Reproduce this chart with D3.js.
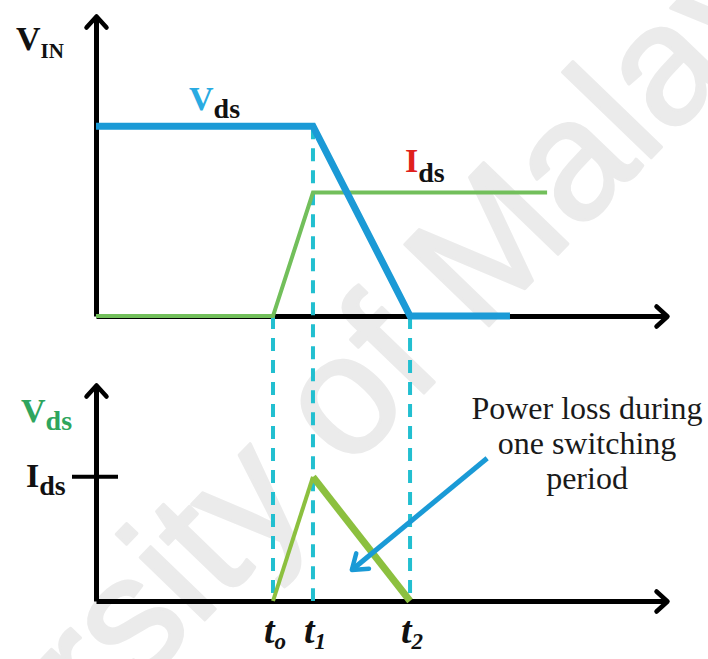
<!DOCTYPE html>
<html>
<head>
<meta charset="utf-8">
<script src="https://cdn.jsdelivr.net/npm/d3@7"></script>
<style>
  body { margin: 0; background: #fff; }
  svg { display: block; }
</style>
</head>
<body>
<div id="chart"></div>
<script>
// Time positions (arbitrary units along the shared time axis)
const switchTimes = [31, 38, 55];
const switchSubs = ["o", "1", "2"];
// level of the top plot where each dashed guide starts
const switchStart = [0, 1, 0];

// Top plot: Vds and Ids waveforms during turn-on
const vdsTime = [0, 38, 55, 72.5];
const vdsLevel = [1, 1, 0, 0];
const idsTime = [0, 31, 38, 79];
const idsLevel = [0, 0, 0.65, 0.65];

// Bottom plot: switching loss triangle
const lossTime = [31, 38, 55];
const lossLevel = [0, 1, 0];

// Annotation arrow (from text to triangle)
const arrowTime = [68.5, 44.8];
const arrowLevel = [1.15, 0.25];
const noteLines = ["Power loss during", "one switching", "period"];

const width = 708, height = 659;

const svg = d3.select("#chart").append("svg")
    .attr("width", width)
    .attr("height", height);

svg.append("rect").attr("width", width).attr("height", height).attr("fill", "#fff");

// watermark
svg.append("text")
    .attr("transform", "translate(294,459) rotate(-46)")
    .attr("text-anchor", "middle")
    .attr("dy", "0.28em")
    .style("font-family", "Liberation Sans, Arial, sans-serif")
    .style("font-size", "170px")
    .attr("fill", "#ebebeb")
    .attr("stroke", "#ebebeb")
    .attr("stroke-width", 3)
    .attr("stroke-linejoin", "round")
    .text("University of Malaya");

// Scales
const x = d3.scaleLinear().domain([0, 100]).range([96, 667]);
const yTop = d3.scaleLinear().domain([0, 1.58]).range([316, 16]);
const yBot = d3.scaleLinear().domain([0, 1.74]).range([601, 385]);

// arrow markers
const defs = svg.append("defs");
defs.append("marker")
    .attr("id", "axis-arrow")
    .attr("markerUnits", "userSpaceOnUse")
    .attr("viewBox", "-16 -14 20 28")
    .attr("refX", 0).attr("refY", 0)
    .attr("markerWidth", 20).attr("markerHeight", 28)
    .attr("orient", "auto")
    .append("path")
    .attr("d", "M-11,-10L0,0L-11,10")
    .attr("fill", "none")
    .attr("stroke", "#000")
    .attr("stroke-width", 4.5)
    .attr("stroke-linecap", "round")
    .attr("stroke-linejoin", "round");

defs.append("marker")
    .attr("id", "note-arrow")
    .attr("markerUnits", "userSpaceOnUse")
    .attr("viewBox", "-20 -14 24 28")
    .attr("refX", 0).attr("refY", 0)
    .attr("markerWidth", 24).attr("markerHeight", 28)
    .attr("orient", "auto")
    .append("path")
    .attr("d", "M-14,-10L0,0L-14,10")
    .attr("fill", "none")
    .attr("stroke", "#1a9ad6")
    .attr("stroke-width", 4.5)
    .attr("stroke-linecap", "round")
    .attr("stroke-linejoin", "round");

function styleAxis(g) {
    g.select(".domain")
        .attr("stroke", "#000")
        .attr("stroke-width", 5)
        .attr("marker-end", "url(#axis-arrow)");
}

// Top axes
svg.append("g")
    .attr("transform", `translate(0,${yTop(0)})`)
    .call(d3.axisBottom(x).tickValues([]).tickSizeOuter(0))
    .call(styleAxis);
svg.append("g")
    .attr("transform", `translate(${x(0)},0)`)
    .call(d3.axisLeft(yTop).tickValues([]).tickSizeOuter(0))
    .call(styleAxis);

// Bottom axes
svg.append("g")
    .attr("transform", `translate(0,${yBot(0)})`)
    .call(d3.axisBottom(x).tickValues([]).tickSizeOuter(0))
    .call(styleAxis);
svg.append("g")
    .attr("transform", `translate(${x(0)},0)`)
    .call(d3.axisLeft(yBot).tickValues([]).tickSizeOuter(0))
    .call(styleAxis);

// Ids tick on the bottom y axis
svg.append("line")
    .attr("x1", x(0) - 24).attr("x2", x(0) + 22)
    .attr("y1", yBot(1)).attr("y2", yBot(1))
    .attr("stroke", "#000")
    .attr("stroke-width", 4);

// dashed guides
svg.selectAll(".guide")
    .data(switchTimes)
    .enter().append("line")
    .attr("class", "guide")
    .attr("x1", d => x(d)).attr("x2", d => x(d))
    .attr("y1", (d, i) => yTop(switchStart[i]))
    .attr("y2", yBot(0))
    .attr("stroke", "#22bfd0")
    .attr("stroke-width", 4)
    .attr("stroke-dasharray", "13,9");

// Ids line
const lineTop = d3.line()
    .x(d => x(d[0]))
    .y(d => yTop(d[1]));

svg.append("path")
    .datum(idsTime.map((t, i) => [t, idsLevel[i]]))
    .attr("fill", "none")
    .attr("stroke", "#72bf5b")
    .attr("stroke-width", 4)
    .attr("d", lineTop);

// Vds line
svg.append("path")
    .datum(vdsTime.map((t, i) => [t, vdsLevel[i]]))
    .attr("fill", "none")
    .attr("stroke", "#1b9ad6")
    .attr("stroke-width", 7)
    .attr("d", lineTop);

// Loss triangle: thin rise, thick fall
const lossPts = lossTime.map((t, i) => [x(t), yBot(lossLevel[i])]);
svg.append("line")
    .attr("x1", lossPts[0][0]).attr("y1", lossPts[0][1])
    .attr("x2", lossPts[1][0]).attr("y2", lossPts[1][1])
    .attr("stroke", "#8cc03f")
    .attr("stroke-width", 4);
svg.append("line")
    .attr("x1", lossPts[1][0]).attr("y1", lossPts[1][1])
    .attr("x2", lossPts[2][0]).attr("y2", lossPts[2][1])
    .attr("stroke", "#8cc03f")
    .attr("stroke-width", 7);

// annotation arrow
svg.append("line")
    .attr("x1", x(arrowTime[0])).attr("y1", yBot(arrowLevel[0]))
    .attr("x2", x(arrowTime[1])).attr("y2", yBot(arrowLevel[1]))
    .attr("stroke", "#1a9ad6")
    .attr("stroke-width", 5)
    .attr("marker-end", "url(#note-arrow)");

// annotation text
svg.append("text")
    .attr("text-anchor", "middle")
    .style("font-family", "Liberation Serif, serif")
    .style("font-size", "32px")
    .attr("fill", "#1a1a1a")
    .selectAll("tspan")
    .data(noteLines)
    .enter().append("tspan")
    .attr("x", 587)
    .attr("y", (d, i) => 419 + i * 35)
    .text(d => d);

// labels with subscripts
function label(xp, yp, main, sub, mainColor, subColor, mainSize, subSize, dy) {
    const t = svg.append("text")
        .attr("x", xp).attr("y", yp)
        .style("font-family", "Liberation Serif, serif")
        .style("font-weight", "bold");
    t.append("tspan")
        .attr("fill", mainColor)
        .style("font-size", mainSize + "px")
        .text(main);
    t.append("tspan")
        .attr("fill", subColor)
        .style("font-size", subSize + "px")
        .attr("dy", dy)
        .text(sub);
    return t;
}

label(16, 50, "V", "IN", "#111", "#111", 34, 21, 8);
label(189, 110, "V", "ds", "#29abe2", "#111", 34, 28, 8);
label(405, 172, "I", "ds", "#e0201c", "#111", 34, 28, 10);
label(21, 422, "V", "ds", "#2ea55d", "#2ea55d", 34, 28, 8);
label(26, 487, "I", "ds", "#111", "#111", 34, 28, 8);

// time labels
switchTimes.forEach((t, i) => {
    const tx = svg.append("text")
        .attr("x", x(t) + 2)
        .attr("y", 643)
        .attr("text-anchor", "middle")
        .style("font-family", "Liberation Serif, serif")
        .style("font-weight", "bold")
        .style("font-style", "italic")
        .attr("fill", "#111");
    tx.append("tspan").style("font-size", "38px").text("t");
    tx.append("tspan").style("font-size", "23px").attr("dy", 6).text(switchSubs[i]);
});
</script>
</body>
</html>
